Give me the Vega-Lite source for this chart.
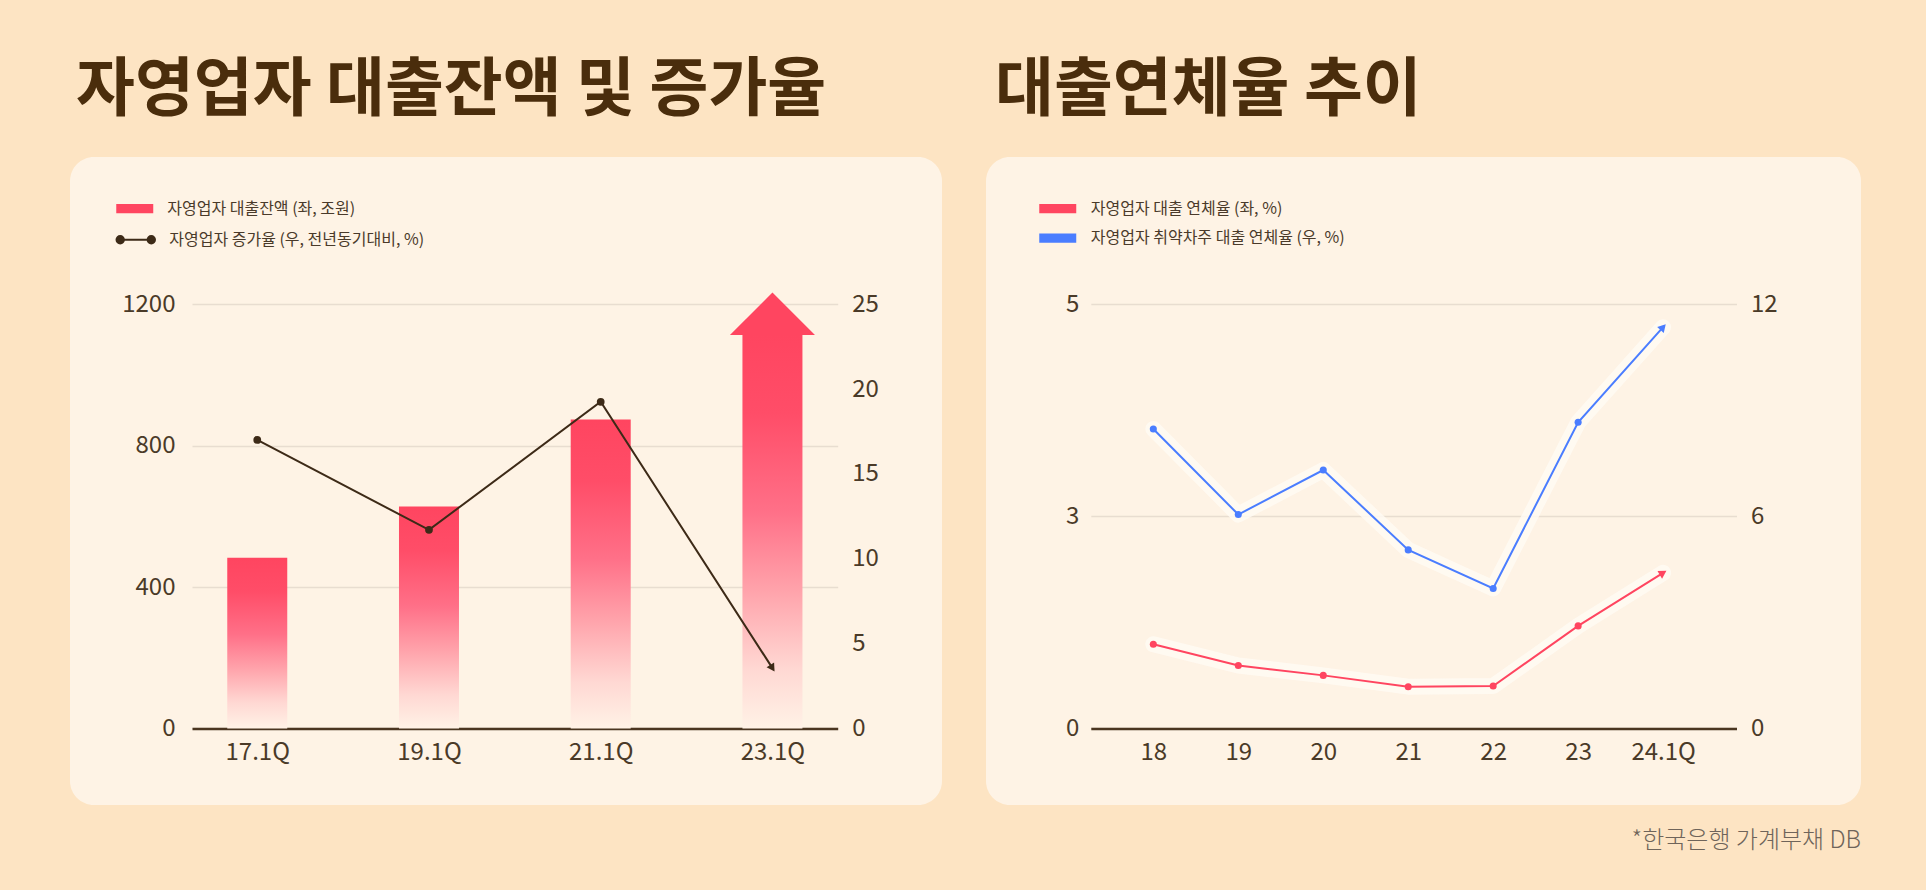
{
  "$schema": "https://vega.github.io/schema/vega-lite/v6.json",
  "background": "#fde4c3",
  "padding": {"left": 70, "top": 59, "right": 65, "bottom": 46},
  "config": {
    "font": "Noto Sans CJK KR",
    "view": {"stroke": null},
    "axis": {
      "labelFont": "Noto Sans CJK KR",
      "labelFontSize": 24,
      "labelColor": "#4a3a28",
      "ticks": false,
      "domain": false,
      "title": null,
      "gridColor": "#e8ddd0",
      "gridWidth": 1.6
    },
    "axisQuantitative": {"format": "d"},
    "legend": {
      "labelFont": "Noto Sans CJK KR",
      "labelFontSize": 16,
      "labelColor": "#4a3a2a",
      "labelLimit": 500,
      "padding": 0,
      "title": null,
      "symbolOpacity": 1
    }
  },
  "title": {
    "text": "*한국은행 가계부채 DB",
    "orient": "bottom",
    "anchor": "end",
    "fontSize": 24,
    "fontWeight": 300,
    "color": "#6f645a",
    "offset": 24
  },
  "spacing": 44,
  "resolve": {
    "scale": {"fill": "independent", "stroke": "independent"},
    "legend": {"fill": "independent", "stroke": "independent"}
  },
  "hconcat": [
    {
      "width": 872,
      "height": 648,
      "view": {"fill": "#fef3e5", "cornerRadius": 24, "stroke": null},
      "title": {
        "text": "자영업자 대출잔액 및 증가율",
        "anchor": "start",
        "fontSize": 64,
        "fontWeight": "bold",
        "color": "#4a2d0c",
        "offset": 34,
        "dx": 6
      },
      "data": {
        "values": [
          {"q": "17.1Q", "loan": 483, "growth": 17.0},
          {"q": "19.1Q", "loan": 628, "growth": 11.7},
          {"q": "21.1Q", "loan": 874, "growth": 19.25},
          {"q": "23.1Q", "loan": 1113, "growth": 3.55}
        ]
      },
      "layer": [
        {
          "layer": [
            {
              "mark": {
                "type": "bar",
                "width": 60,
                "fill": {
                  "gradient": "linear",
                  "x1": 0, "y1": 0, "x2": 0, "y2": 1,
                  "stops": [
                    {"offset": 0, "color": "#ff4560"},
                    {"offset": 0.2, "color": "#ff4d68"},
                    {"offset": 0.45, "color": "#ff7088"},
                    {"offset": 0.65, "color": "#ffa3ab"},
                    {"offset": 0.85, "color": "#ffd8d3"},
                    {"offset": 1, "color": "#fff2e6"}
                  ]
                }
              },
              "encoding": {
                "x": {"field": "q", "type": "ordinal", "scale": {"type": "point", "range": [122, 767.7], "padding": 0.38}, "axis": {"labelAngle": 0, "offset": -76.6, "domain": true, "domainColor": "#4a3520", "domainWidth": 2.5, "labelPadding": 12, "grid": false}},
                "y": {"field": "loan", "type": "quantitative", "scale": {"domain": [0, 1200], "range": [571.4, 147.2], "nice": false}, "axis": {"orient": "left", "values": [0, 400, 800, 1200], "offset": -122, "grid": true, "labelPadding": 17}}
              }
            },
            {
              "transform": [{"filter": "datum.q === '23.1Q'"}],
              "mark": {"type": "point", "shape": "M-1,0L0,-1L1,0Z", "size": 7225, "filled": true, "opacity": 1, "strokeWidth": 0},
              "encoding": {
                "x": {"field": "q", "type": "ordinal"},
                "y": {"field": "loan", "type": "quantitative"},
                "fill": {
                  "datum": "자영업자 대출잔액 (좌, 조원)",
                  "type": "nominal",
                  "scale": {"range": ["#ff4560"]},
                  "legend": {"orient": "none", "legendX": 55.25, "legendY": 42.2, "symbolType": "M-2,-0.5L2,-0.5L2,0.5L-2,0.5Z", "symbolSize": 342, "symbolStrokeWidth": 0, "labelOffset": 23}
                }
              }
            }
          ]
        },
        {
          "layer": [
            {
              "mark": {"type": "line", "strokeWidth": 2},
              "encoding": {
                "x": {"field": "q", "type": "ordinal"},
                "y": {"field": "growth", "type": "quantitative", "scale": {"domain": [0, 25], "range": [571.4, 147.2], "nice": false}, "axis": {"orient": "right", "values": [0, 5, 10, 15, 20, 25], "offset": -104.3, "grid": false, "labelPadding": 14}},
                "stroke": {
                  "datum": "자영업자 증가율 (우, 전년동기대비, %)",
                  "type": "nominal",
                  "scale": {"range": ["#3d2a17"]},
                  "legend": {"orient": "none", "legendX": 55.25, "legendY": 72.2, "symbolType": "M-1.68,0L1.68,0M-2.08,0a0.4,0.4 0 1,0 0.8,0a0.4,0.4 0 1,0 -0.8,0ZM1.28,0a0.4,0.4 0 1,0 0.8,0a0.4,0.4 0 1,0 -0.8,0Z", "symbolSize": 342, "symbolStrokeWidth": 2, "symbolFillColor": "#3d2a17", "labelOffset": 23}
                }
              }
            },
            {
              "transform": [{"filter": "datum.q !== '23.1Q'"}],
              "mark": {"type": "point", "filled": true, "size": 60, "color": "#3d2a17", "opacity": 1},
              "encoding": {
                "x": {"field": "q", "type": "ordinal"},
                "y": {"field": "growth", "type": "quantitative"}
              }
            },
            {
              "transform": [{"filter": "datum.q === '23.1Q'"}],
              "mark": {"type": "point", "shape": "triangle-up", "filled": true, "size": 80, "angle": 147, "color": "#3d2a17", "opacity": 1},
              "encoding": {
                "x": {"field": "q", "type": "ordinal"},
                "y": {"field": "growth", "type": "quantitative"}
              }
            }
          ]
        }
      ],
      "resolve": {"scale": {"y": "independent"}}
    },
    {
      "width": 875,
      "height": 648,
      "view": {"fill": "#fef3e5", "cornerRadius": 24, "stroke": null},
      "title": {
        "text": "대출연체율 추이",
        "anchor": "start",
        "fontSize": 64,
        "fontWeight": "bold",
        "color": "#4a2d0c",
        "offset": 34,
        "dx": 9
      },
      "data": {
        "values": [
          {"yr": "18", "series": "자영업자 대출 연체율 (좌, %)", "v": 1.19},
          {"yr": "19", "series": "자영업자 대출 연체율 (좌, %)", "v": 0.89},
          {"yr": "20", "series": "자영업자 대출 연체율 (좌, %)", "v": 0.75},
          {"yr": "21", "series": "자영업자 대출 연체율 (좌, %)", "v": 0.59},
          {"yr": "22", "series": "자영업자 대출 연체율 (좌, %)", "v": 0.6},
          {"yr": "23", "series": "자영업자 대출 연체율 (좌, %)", "v": 1.45},
          {"yr": "24.1Q", "series": "자영업자 대출 연체율 (좌, %)", "v": 2.2},
          {"yr": "18", "series": "자영업자 취약차주 대출 연체율 (우, %)", "v": 8.47},
          {"yr": "19", "series": "자영업자 취약차주 대출 연체율 (우, %)", "v": 6.05},
          {"yr": "20", "series": "자영업자 취약차주 대출 연체율 (우, %)", "v": 7.31},
          {"yr": "21", "series": "자영업자 취약차주 대출 연체율 (우, %)", "v": 5.05},
          {"yr": "22", "series": "자영업자 취약차주 대출 연체율 (우, %)", "v": 3.96},
          {"yr": "23", "series": "자영업자 취약차주 대출 연체율 (우, %)", "v": 8.66},
          {"yr": "24.1Q", "series": "자영업자 취약차주 대출 연체율 (우, %)", "v": 11.35}
        ]
      },
      "layer": [
        {
          "transform": [{"filter": "datum.series === '자영업자 대출 연체율 (좌, %)'"}],
          "layer": [
            {
              "mark": {"type": "line", "strokeWidth": 16, "stroke": "#fffaf3", "opacity": 0.85, "strokeCap": "round", "strokeJoin": "round"},
              "encoding": {
                "x": {"field": "yr", "type": "ordinal", "scale": {"type": "point", "range": [104.8, 750.5], "padding": 0.8, "align": 0.46}, "axis": {"labelAngle": 0, "offset": -76.6, "domain": true, "domainColor": "#4a3520", "domainWidth": 2.5, "labelPadding": 12, "grid": false}},
                "y": {"field": "v", "type": "quantitative", "scale": {"domain": [0, 3, 5], "range": [571.4, 359.3, 147.2], "nice": false, "zero": false}, "axis": {"orient": "left", "values": [0, 3, 5], "offset": -104.8, "grid": true, "labelPadding": 12}}
              }
            },
            {
              "mark": {"type": "line", "strokeWidth": 2, "stroke": "#ff4560"},
              "encoding": {
                "x": {"field": "yr", "type": "ordinal"},
                "y": {"field": "v", "type": "quantitative"}
              }
            },
            {
              "transform": [{"filter": "datum.yr !== '24.1Q'"}],
              "mark": {"type": "point", "filled": true, "size": 50, "opacity": 1},
              "encoding": {
                "x": {"field": "yr", "type": "ordinal"},
                "y": {"field": "v", "type": "quantitative"},
                "fill": {
                  "field": "series",
                  "type": "nominal",
                  "scale": {"domain": ["자영업자 대출 연체율 (좌, %)", "자영업자 취약차주 대출 연체율 (우, %)"], "range": ["#ff4560", "#4a7dff"]},
                  "legend": {"orient": "none", "legendX": 62.25, "legendY": 42.2, "symbolType": "M-2,-0.5L2,-0.5L2,0.5L-2,0.5Z", "symbolSize": 342, "symbolStrokeWidth": 0, "labelOffset": 23.5, "rowPadding": 11.5}
                }
              }
            },
            {
              "transform": [{"filter": "datum.yr === '24.1Q'"}],
              "mark": {"type": "point", "shape": "triangle-up", "filled": true, "size": 80, "angle": 59, "color": "#ff4560", "opacity": 1},
              "encoding": {
                "x": {"field": "yr", "type": "ordinal"},
                "y": {"field": "v", "type": "quantitative"}
              }
            }
          ]
        },
        {
          "transform": [{"filter": "datum.series === '자영업자 취약차주 대출 연체율 (우, %)'"}],
          "layer": [
            {
              "mark": {"type": "line", "strokeWidth": 16, "stroke": "#fffaf3", "opacity": 0.85, "strokeCap": "round", "strokeJoin": "round"},
              "encoding": {
                "x": {"field": "yr", "type": "ordinal"},
                "y": {"field": "v", "type": "quantitative", "scale": {"domain": [0, 12], "range": [571.4, 147.2], "nice": false}, "axis": {"orient": "right", "values": [0, 6, 12], "offset": -124.5, "grid": false, "labelPadding": 14}}
              }
            },
            {
              "mark": {"type": "line", "strokeWidth": 2, "stroke": "#4a7dff"},
              "encoding": {
                "x": {"field": "yr", "type": "ordinal"},
                "y": {"field": "v", "type": "quantitative"}
              }
            },
            {
              "transform": [{"filter": "datum.yr !== '24.1Q'"}],
              "mark": {"type": "point", "filled": true, "size": 50, "opacity": 1},
              "encoding": {
                "x": {"field": "yr", "type": "ordinal"},
                "y": {"field": "v", "type": "quantitative"},
                "fill": {"field": "series", "type": "nominal"}
              }
            },
            {
              "transform": [{"filter": "datum.yr === '24.1Q'"}],
              "mark": {"type": "point", "shape": "triangle-up", "filled": true, "size": 80, "angle": 43, "color": "#4a7dff", "opacity": 1},
              "encoding": {
                "x": {"field": "yr", "type": "ordinal"},
                "y": {"field": "v", "type": "quantitative"}
              }
            }
          ]
        }
      ],
      "resolve": {"scale": {"y": "independent"}}
    }
  ]
}
